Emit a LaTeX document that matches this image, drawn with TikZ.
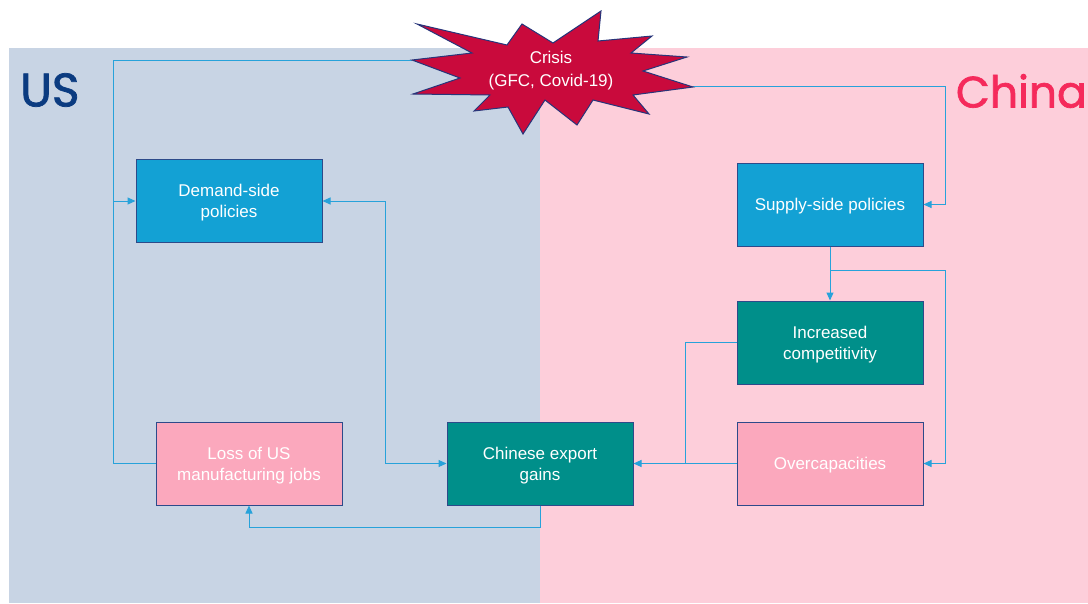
\documentclass[tikz,border=0pt]{standalone}
\usepackage{fontspec}
\setmainfont{Liberation Sans}
\newfontfamily\headfont{Poppins}[FakeBold=1.6]
\usetikzlibrary{arrows.meta}
\definecolor{usbg}{HTML}{C8D4E4}
\definecolor{chbg}{HTML}{FDCEDA}
\definecolor{boxblue}{HTML}{13A1D4}
\definecolor{boxteal}{HTML}{008F8A}
\definecolor{boxpink}{HTML}{FBA8BD}
\definecolor{boxborder}{HTML}{2D4A8A}
\definecolor{linecol}{HTML}{27A2DA}
\definecolor{usblue}{HTML}{0B3B80}
\definecolor{chred}{HTML}{F52A5B}
\definecolor{crisisred}{HTML}{C90A3C}
\definecolor{starborder}{HTML}{27357A}
\begin{document}
\begin{tikzpicture}[x=1pt,y=-1pt,
  box/.style={draw=boxborder, line width=1pt, minimum width=186pt, minimum height=83pt,
    text=white, align=center, font=\fontsize{17}{21}\selectfont, inner sep=0pt,
    text depth=0pt},
  bluebox/.style={box, fill=boxblue},
  tealbox/.style={box, fill=boxteal},
  pinkbox/.style={box, fill=boxpink},
  conn/.style={draw=linecol, line width=1pt},
  tip/.tip={Triangle[length=8pt,width=7pt]},
  arr/.style={conn, -tip},
  biarr/.style={conn, tip-tip},
  head/.style={inner sep=0pt, font=\headfont\fontsize{47}{47}\selectfont}]
\useasboundingbox (0,0) rectangle (1088,603);
\fill[usbg] (9,48) rectangle (540,603);
\fill[chbg] (540,48) rectangle (1088,603);

\node[head, anchor=west, text=usblue] (uslabel) at (20,90) {US};
\node[head, anchor=east, text=chred, font=\headfont\fontsize{44}{44}\selectfont] (chlabel) at (1087,91) {China};

% boxes
\node[bluebox] (demand) at (229,201) {Demand-side\\policies};
\node[bluebox] (supply) at (830,204.5) {Supply-side policies};
\node[tealbox] (compet) at (830,342.5) {Increased\\competitivity};
\node[pinkbox] (overcap) at (830,463.5) {Overcapacities};
\node[tealbox] (export) at (540,463.5) {Chinese export\\gains};
\node[pinkbox] (loss) at (249,463.5) {Loss of US\\manufacturing jobs};

% junction coordinates
\coordinate (crisisL) at (412,60);
\coordinate (crisisR) at (693,86);
\coordinate (jL) at (113,201);
\coordinate (jLb) at (113,463.5);
\coordinate (jR) at (945,204.5);
\coordinate (sb) at (830,270);
\coordinate (sbR) at (945,463.5);
\coordinate (jD) at (385,201);
\coordinate (jC) at (685,463.5);
\coordinate (jE) at (540,527);

% connectors
\draw[conn] (loss.west) -- (jLb) |- (crisisL);
\draw[arr] (jL) -- (demand.west);
\draw[arr] (crisisR) -| (jR) -- (supply.east);
\draw[biarr] (demand.east) -- (jD) |- (export.west);
\draw[arr] (supply.south) -- (compet.north);
\draw[arr] (sb) -| (sbR) -- (overcap.east);
\draw[conn] (compet.west) -| (jC);
\draw[arr] (overcap.west) -- (export.east);
\draw[arr] (export.south) -- (jE) -| (loss.south);

% crisis star
\filldraw[fill=crisisred, draw=starborder, line width=1pt, line join=miter]
  (417,24) -- (507,45) -- (522,24) -- (553,43) -- (601,11) -- (598,41) -- (652,36)
  -- (631,53) -- (687,57) -- (643,71) -- (693,87) -- (633,95) -- (649,114)
  -- (593,100) -- (577,125) -- (545,100) -- (523,134) -- (508,107) -- (474,111)
  -- (490,95) -- (413,94) -- (460,78) -- (412,60) -- (472,53) -- cycle;
\node[text=white, align=center, font=\fontsize{17}{23}\selectfont, inner sep=0pt] (crisis) at (551,71) {Crisis\\(GFC, Covid-19)};
\end{tikzpicture}
\end{document}
